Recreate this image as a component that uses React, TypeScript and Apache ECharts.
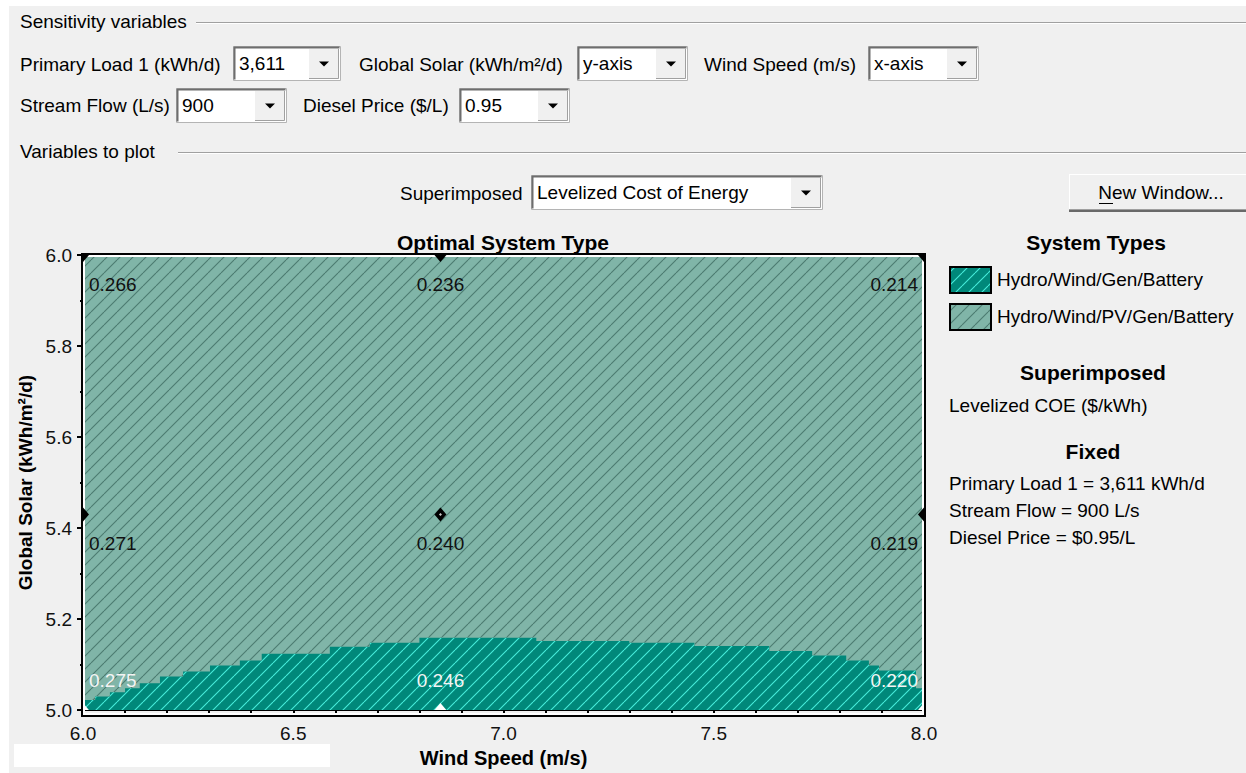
import React, { useEffect, useRef } from 'react';
import * as echarts from 'echarts';

const FONT = "'Liberation Sans', Arial, sans-serif";

// Sensitivity grid points
const windSpeedPoints = [6.0, 6.85, 8.0];
const solarPoints = [5.0, 5.43, 6.0];
// Levelized COE ($/kWh) per solar row (bottom -> top), per wind column
const coeSolar50 = [0.275, 0.246, 0.22];
const coeSolar543 = [0.271, 0.24, 0.219];
const coeSolar60 = [0.266, 0.236, 0.214];
const coeRows = [coeSolar50, coeSolar543, coeSolar60];

// Boundary of the Hydro/Wind/Gen/Battery region (stepped)
const boundaryWind = [6.0, 6.029, 6.064, 6.1, 6.135, 6.183, 6.238, 6.302, 6.373, 6.425, 6.587, 6.682, 6.8, 7.078, 7.299, 7.454, 7.632, 7.734, 7.815, 7.869, 7.893, 7.981, 8.0];
const boundarySolar = [5.022, 5.03, 5.039, 5.048, 5.059, 5.074, 5.085, 5.098, 5.109, 5.124, 5.139, 5.148, 5.159, 5.152, 5.148, 5.141, 5.13, 5.12, 5.109, 5.098, 5.087, 5.048, 5.048];

const systemTypes = ['Hydro/Wind/Gen/Battery', 'Hydro/Wind/PV/Gen/Battery'];
const superimposedLabel = 'Levelized COE ($/kWh)';
const fixedLines = ['Primary Load 1 = 3,611 kWh/d', 'Stream Flow = 900 L/s', 'Diesel Price = $0.95/L'];

function hatchUrl(bg: string, fg: string, size: number): string {
  const c = document.createElement('canvas');
  c.width = size;
  c.height = size;
  const ctx = c.getContext('2d')!;
  ctx.fillStyle = bg;
  ctx.fillRect(0, 0, size, size);
  ctx.strokeStyle = fg;
  ctx.lineWidth = 1.1;
  for (const k of [-size, 0, size]) {
    ctx.beginPath();
    ctx.moveTo(k, size);
    ctx.lineTo(k + size, 0);
    ctx.stroke();
  }
  return c.toDataURL();
}

function pattern(bg: string, fg: string) {
  const size = 13;
  return { image: hatchUrl(bg, fg, size), repeat: 'repeat', imageWidth: size, imageHeight: size };
}

function txt(x: number, y: number, text: string, opts: any = {}) {
  return {
    type: 'text',
    x,
    y,
    z: 10,
    silent: true,
    style: {
      text,
      fontSize: opts.fontSize || 19,
      fontFamily: FONT,
      fontWeight: opts.bold ? 'bold' : 'normal',
      fill: opts.fill || '#000',
      align: opts.align || 'left',
      verticalAlign: 'middle',
    },
  };
}

function line(x1: number, y1: number, x2: number, y2: number, stroke: string, lw = 1) {
  return { type: 'line', z: 10, silent: true, shape: { x1, y1, x2, y2 }, style: { stroke, lineWidth: lw } };
}

function combo(x: number, y: number, w: number, h: number, text: string) {
  const els: any[] = [];
  els.push({ type: 'rect', z: 10, silent: true, shape: { x: x + 0.5, y: y + 0.5, width: w - 1, height: h - 1 }, style: { fill: '#fff', stroke: '#b4b4b4', lineWidth: 1 } });
  els.push({ type: 'polyline', z: 10, silent: true, shape: { points: [[x + 1.5, y + h - 1.5], [x + 1.5, y + 1.5], [x + w - 1.5, y + 1.5]] }, style: { stroke: '#6e6e6e', lineWidth: 2, fill: null } });
  const bw = 30;
  const bx = x + w - bw - 2;
  els.push({ type: 'rect', z: 10, silent: true, shape: { x: bx, y: y + 3, width: bw, height: h - 5 }, style: { fill: '#f0f0f0' } });
  els.push({ type: 'polyline', z: 10, silent: true, shape: { points: [[bx, y + h - 2.5], [bx + bw - 0.5, y + h - 2.5], [bx + bw - 0.5, y + 3]] }, style: { stroke: '#a0a0a0', lineWidth: 1, fill: null } });
  const cx = bx + bw / 2;
  const cy = y + h / 2;
  els.push({ type: 'polygon', z: 10, silent: true, shape: { points: [[cx - 5, cy - 2], [cx + 5, cy - 2], [cx, cy + 3]] }, style: { fill: '#000' } });
  els.push(txt(x + 6, cy, text));
  return els;
}

export default function App() {
  const ref = useRef<HTMLDivElement>(null);

  useEffect(() => {
    if (!ref.current) return;
    const chart = echarts.init(ref.current, null, { renderer: 'svg' });

    const darkPat = pattern('#00887a', '#48ecdb');
    const lightPat = pattern('#80b5a8', '#4b7a70');

    const g: any[] = [];
    g.push({ type: 'rect', z: -10, silent: true, shape: { x: 9, y: 6, width: 1237, height: 767 }, style: { fill: '#f0f0f0' } });
    g.push({ type: 'rect', z: 10, silent: true, shape: { x: 14, y: 744, width: 316, height: 23 }, style: { fill: '#ffffff' } });

    // Group headers
    g.push(txt(20, 21, 'Sensitivity variables'));
    g.push(line(196, 22.5, 1246, 22.5, '#a0a0a0'));
    g.push(line(196, 23.5, 1246, 23.5, '#ffffff'));
    g.push(txt(20, 151, 'Variables to plot'));
    g.push(line(178, 152.5, 1246, 152.5, '#a0a0a0'));
    g.push(line(178, 153.5, 1246, 153.5, '#ffffff'));

    // Row 1
    g.push(txt(20, 64, 'Primary Load 1 (kWh/d)'));
    g.push(...combo(233, 46, 108, 35, '3,611'));
    g.push(txt(359, 64, 'Global Solar (kWh/m²/d)'));
    g.push(...combo(577, 46, 111, 35, 'y-axis'));
    g.push(txt(704, 64, 'Wind Speed (m/s)'));
    g.push(...combo(868, 46, 111, 35, 'x-axis'));
    // Row 2
    g.push(txt(20, 105, 'Stream Flow (L/s)'));
    g.push(...combo(176, 88, 111, 35, '900'));
    g.push(txt(303, 105, 'Diesel Price ($/L)'));
    g.push(...combo(459, 88, 111, 35, '0.95'));
    // Row 4
    g.push(txt(400, 193, 'Superimposed'));
    g.push(...combo(531, 175, 292, 35, 'Levelized Cost of Energy'));

    // New Window button
    g.push({ type: 'rect', z: 10, silent: true, shape: { x: 1069, y: 174, width: 177, height: 37 }, style: { fill: '#f0f0f0' } });
    g.push(line(1069, 174.5, 1246, 174.5, '#ffffff'));
    g.push(line(1069.5, 174, 1069.5, 211, '#ffffff'));
    g.push(line(1069, 209.5, 1246, 209.5, '#a0a0a0'));
    g.push(line(1069, 211, 1246, 211, '#696969', 2));
    g.push(txt(1161, 192, 'New Window...', { align: 'center' }));
    g.push(line(1099, 203.5, 1113, 203.5, '#000'));

    // Chart title
    g.push(txt(503, 242, 'Optimal System Type', { bold: true, fontSize: 21, align: 'center' }));

    // Plot frame: white inner line + black outer border
    g.push({ type: 'rect', z: 4, silent: true, shape: { x: 84, y: 256, width: 839, height: 458 }, style: { fill: null, stroke: '#ffffff', lineWidth: 2 } });
    g.push({ type: 'rect', z: 4, silent: true, shape: { x: 82, y: 254, width: 843, height: 462 }, style: { fill: null, stroke: '#000000', lineWidth: 2 } });

    // Legend
    g.push(txt(1096, 242, 'System Types', { bold: true, fontSize: 21, align: 'center' }));
    g.push({ type: 'rect', z: 10, silent: true, shape: { x: 950, y: 267, width: 41, height: 26 }, style: { fill: darkPat, stroke: '#000', lineWidth: 2 } });
    g.push(txt(997, 279, systemTypes[0]));
    g.push({ type: 'rect', z: 10, silent: true, shape: { x: 950, y: 304, width: 41, height: 26 }, style: { fill: lightPat, stroke: '#000', lineWidth: 2 } });
    g.push(txt(997, 316, systemTypes[1]));
    g.push(txt(1093, 372, 'Superimposed', { bold: true, fontSize: 21, align: 'center' }));
    g.push(txt(949, 405, superimposedLabel));
    g.push(txt(1093, 451, 'Fixed', { bold: true, fontSize: 21, align: 'center' }));
    fixedLines.forEach((t, i) => g.push(txt(949, 483 + i * 27, t)));

    const wMin = Math.min(...windSpeedPoints);
    const wMax = Math.max(...windSpeedPoints);
    const sMin = Math.min(...solarPoints);
    const sMax = Math.max(...solarPoints);

    const pointData: any[] = [];
    solarPoints.forEach((s, i) => {
      windSpeedPoints.forEach((w, j) => {
        pointData.push([w, s, coeRows[i][j], i, j]);
      });
    });

    const option: any = {
      animation: false,
      backgroundColor: '#ffffff',
      grid: { left: 83, top: 255, width: 841, height: 460, show: false, containLabel: false },
      xAxis: {
        type: 'value',
        min: 6,
        max: 8,
        interval: 0.5,
        axisLine: { show: true, lineStyle: { color: '#000', width: 2 } },
        axisTick: { show: true, length: 6, lineStyle: { color: '#000', width: 2 } },
        minorTick: { show: true, splitNumber: 5, length: 3, lineStyle: { color: '#000', width: 2 } },
        splitLine: { show: false },
        minorSplitLine: { show: false },
        axisLabel: { color: '#111', fontSize: 19, fontFamily: FONT, margin: 14, formatter: (v: number) => v.toFixed(1) },
        name: 'Wind Speed (m/s)',
        nameLocation: 'middle',
        nameGap: 37,
        nameTextStyle: { color: '#000', fontSize: 20, fontWeight: 'bold', fontFamily: FONT },
      },
      yAxis: {
        type: 'value',
        min: 5,
        max: 6,
        interval: 0.2,
        axisLine: { show: true, lineStyle: { color: '#000', width: 2 } },
        axisTick: { show: true, length: 6, lineStyle: { color: '#000', width: 2 } },
        minorTick: { show: true, splitNumber: 2, length: 3, lineStyle: { color: '#000', width: 2 } },
        splitLine: { show: false },
        minorSplitLine: { show: false },
        axisLabel: { color: '#111', fontSize: 19, fontFamily: FONT, margin: 11, formatter: (v: number) => v.toFixed(1) },
        name: 'Global Solar (kWh/m²/d)',
        nameLocation: 'middle',
        nameGap: 41,
        nameTextStyle: { color: '#000', fontSize: 19, fontWeight: 'bold', fontFamily: FONT },
      },
      graphic: { elements: g },
      series: [
        {
          type: 'line',
          name: systemTypes[1],
          data: [[wMin, sMax], [wMax, sMax]],
          symbol: 'none',
          lineStyle: { width: 0, opacity: 0 },
          areaStyle: { color: lightPat, opacity: 1, origin: 'start' },
          z: 2,
          silent: true,
        },
        {
          type: 'line',
          name: systemTypes[0],
          data: boundaryWind.map((w, i) => [w, boundarySolar[i]]),
          step: 'end',
          symbol: 'none',
          lineStyle: { width: 0, opacity: 0 },
          areaStyle: { color: darkPat, opacity: 1, origin: 'start' },
          z: 3,
          silent: true,
        },
        {
          type: 'custom',
          name: 'Levelized COE',
          clip: true,
          z: 5,
          silent: true,
          data: pointData,
          renderItem: (params: any, api: any) => {
            const w = api.value(0);
            const s = api.value(1);
            const coe = api.value(2);
            const row = api.value(3);
            const col = api.value(4);
            const p = api.coord([w, s]);
            const bottom = s === sMin;
            const fill = bottom ? '#ffffff' : '#000000';
            const dw = 6;
            const dh = 7;
            const children: any[] = [
              {
                type: 'polygon',
                shape: { points: [[p[0], p[1] - dh], [p[0] + dw, p[1]], [p[0], p[1] + dh], [p[0] - dw, p[1]]] },
                style: { fill },
              },
            ];
            const interior = w !== wMin && w !== wMax && s !== sMin && s !== sMax;
            if (interior) {
              children.push({
                type: 'polygon',
                shape: { points: [[p[0], p[1] - 1.5], [p[0] + 1.5, p[1]], [p[0], p[1] + 1.5], [p[0] - 1.5, p[1]]] },
                style: { fill: '#c8c8c8' },
              });
            }
            const align = col === 0 ? 'left' : col === 2 ? 'right' : 'center';
            const dx = col === 0 ? 6 : col === 2 ? -6 : 0;
            const dy = row === 0 ? -30 : 29;
            children.push({
              type: 'text',
              x: p[0] + dx,
              y: p[1] + dy,
              style: {
                text: coe.toFixed(3),
                fill: bottom ? '#f4f4f4' : '#111111',
                fontSize: 19,
                fontFamily: FONT,
                align,
                verticalAlign: 'middle',
              },
            });
            return { type: 'group', children };
          },
        },
      ],
    };

    chart.setOption(option);
    return () => {
      chart.dispose();
    };
  }, []);

  return <div ref={ref} style={{ position: 'absolute', left: 0, top: 0, width: 1246, height: 773 }} />;
}
